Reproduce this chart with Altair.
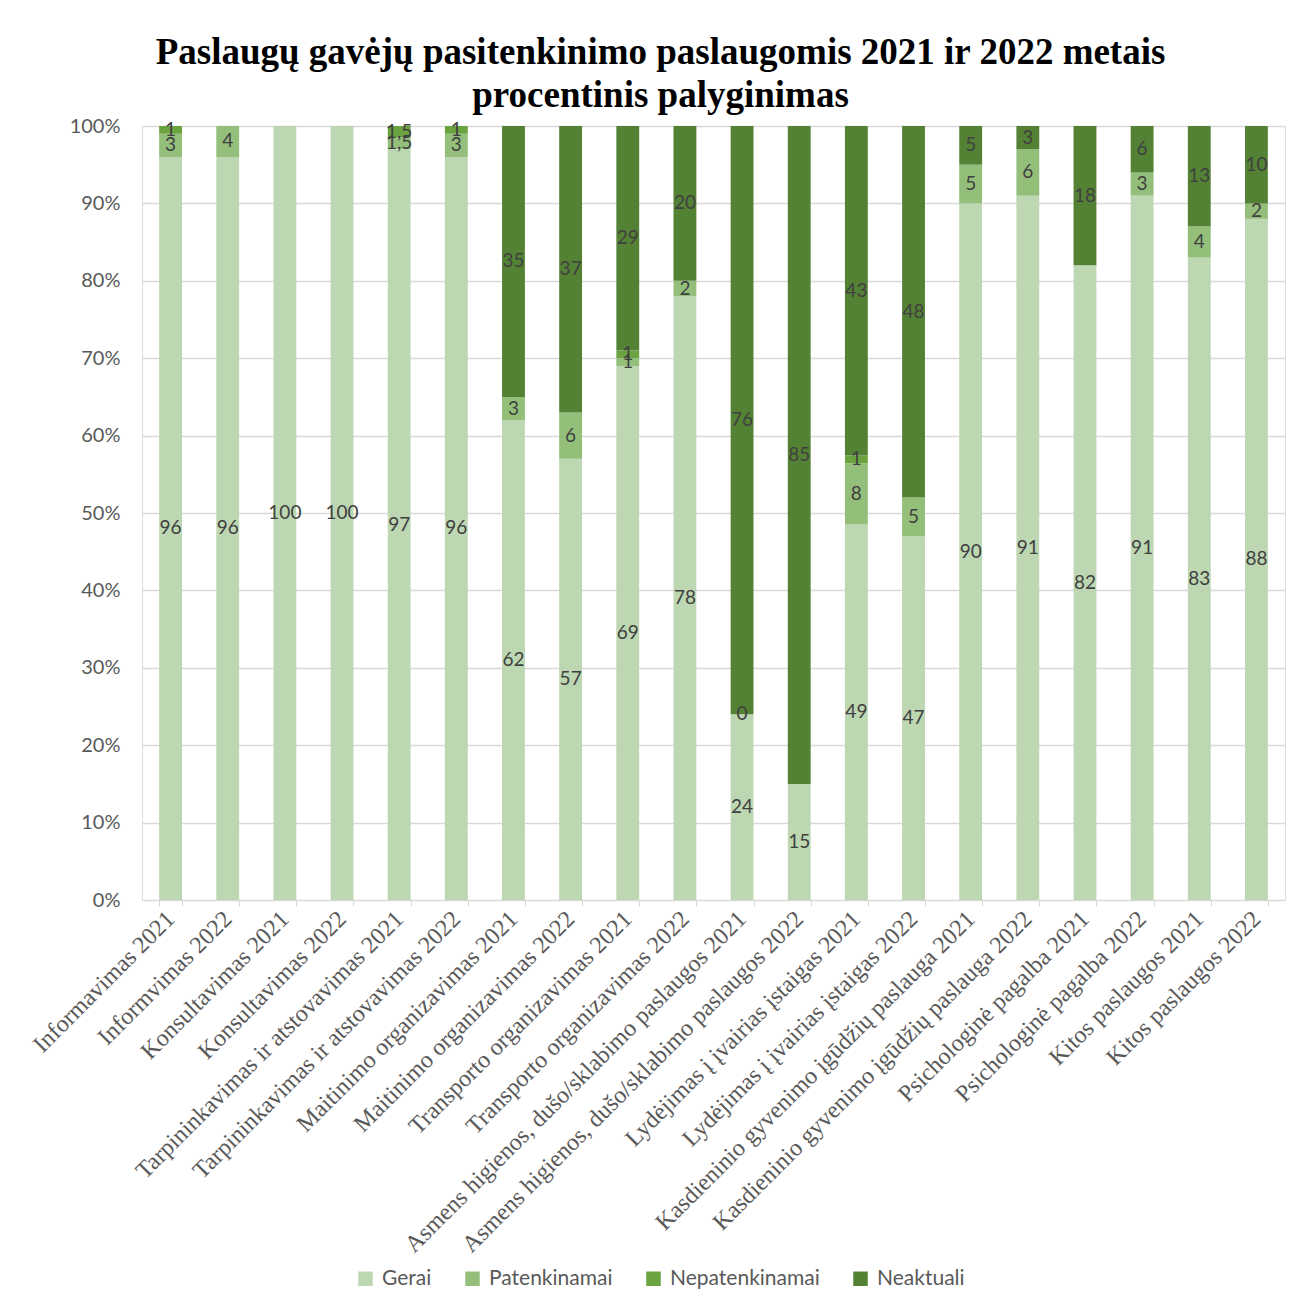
import altair as alt
import pandas as pd

cats = [
    "Informavimas 2021", "Informvimas 2022",
    "Konsultavimas 2021", "Konsultavimas 2022",
    "Tarpininkavimas ir atstovavimas 2021", "Tarpininkavimas ir atstovavimas 2022",
    "Maitinimo organizavimas 2021", "Maitinimo organizavimas 2022",
    "Transporto organizavimas 2021", "Transporto organizavimas 2022",
    "Asmens higienos, dušo/sklabimo paslaugos 2021", "Asmens higienos, dušo/sklabimo paslaugos 2022",
    "Lydėjimas į įvairias įstaigas 2021", "Lydėjimas į įvairias įstaigas 2022",
    "Kasdieninio gyvenimo įgūdžių paslauga 2021", "Kasdieninio gyvenimo įgūdžių paslauga 2022",
    "Psichologinė pagalba 2021", "Psichologinė pagalba 2022",
    "Kitos paslaugos 2021", "Kitos paslaugos 2022",
]
series = ["Gerai", "Patenkinamai", "Nepatenkinamai", "Neaktuali"]
colors = ["#bdd7b2", "#93bf7b", "#6aa33f", "#548235"]

gerai = [96, 96, 100, 100, 97, 96, 62, 57, 69, 78, 24, 15, 49, 47, 90, 91, 82, 91, 83, 88]
patenkinamai = [3, 4, None, None, 1.5, 3, 3, 6, 1, 2, 0, None, 8, 5, 5, 6, None, 3, 4, 2]
nepatenkinamai = [1, None, None, None, 1.5, 1, None, None, 1, None, None, None, 1, None, None, None, None, None, None, None]
neaktuali = [None, None, None, None, None, None, 35, 37, 29, 20, 76, 85, 43, 48, 5, 3, 18, 6, 13, 10]

title_lines = ["Paslaugų gavėjų pasitenkinimo paslaugomis 2021 ir 2022 metais",
               "procentinis palyginimas"]


def fmt(v):
    if v is None:
        return ""
    if float(v).is_integer():
        return str(int(v))
    return str(v).replace(".", ",")


rows = []
for si, (name, vals) in enumerate(zip(series, [gerai, patenkinamai, nepatenkinamai, neaktuali])):
    for c, v in zip(cats, vals):
        rows.append({"cat": c, "series": name, "order": si,
                     "value": 0 if v is None else v, "label": fmt(v)})
df = pd.DataFrame(rows)

base = alt.Chart(df).transform_stack(
    stack="value", groupby=["cat"], as_=["y0", "y1"], offset="normalize",
    sort=[alt.SortField("order", order="ascending")]
).transform_calculate(mid="(datum.y0 + datum.y1) / 2")

x_enc = alt.X("cat:N", sort=cats, title=None,
              scale=alt.Scale(paddingInner=0.6, paddingOuter=0.3),
              axis=alt.Axis(labelAngle=-45, labelAlign="right", labelBaseline="middle",
                            labelFont="Liberation Serif", labelFontSize=24,
                            labelColor="#595959", labelPadding=9, labelLimit=700,
                            domainColor="#d9d9d9", tickColor="#d9d9d9", tickSize=6,
                            tickBand="extent", grid=False))

bars = base.mark_bar().encode(
    x=x_enc,
    y=alt.Y("y0:Q", scale=alt.Scale(domain=[0, 1]), title=None,
            axis=alt.Axis(format=".0%", values=[i / 10 for i in range(11)],
                          labelFont="Lato", labelFontSize=20, labelColor="#595959",
                          domain=False, ticks=False, labelPadding=22,
                          gridColor="#d9d9d9", gridWidth=1.3)),
    y2="y1:Q",
    color=alt.Color("series:N", sort=series,
                    scale=alt.Scale(domain=series, range=colors),
                    legend=alt.Legend(title=None, orient="none", direction="horizontal",
                                      legendX=213, legendY=1142,
                                      symbolType="square", symbolSize=210,
                                      symbolStrokeWidth=0, labelFont="Lato",
                                      labelFontSize=21, labelColor="#595959",
                                      columnPadding=30, labelOffset=6)),
    order=alt.Order("order:Q", sort="ascending"),
)

labels = base.transform_filter("datum.label != ''").mark_text(
    font="Lato", fontSize=19, color="#404040", baseline="middle", align="center"
).encode(
    x=alt.X("cat:N", sort=cats),
    y=alt.Y("mid:Q"),
    text="label:N",
)

chart = alt.layer(bars, labels).properties(
    width=1143, height=774,
    title=alt.Title(text=title_lines, font="Liberation Serif", fontSize=37,
                    fontWeight="bold", color="#000000", anchor="middle",
                    dx=-53, offset=1, lineHeight=43),
    autosize=alt.AutoSizeParams(type="none"),
    padding={"left": 134, "top": 118, "right": 12, "bottom": 390},
).configure_view(stroke=None).configure(background="white")

chart.save("out.html", embed_options={"renderer": "svg", "actions": False})
